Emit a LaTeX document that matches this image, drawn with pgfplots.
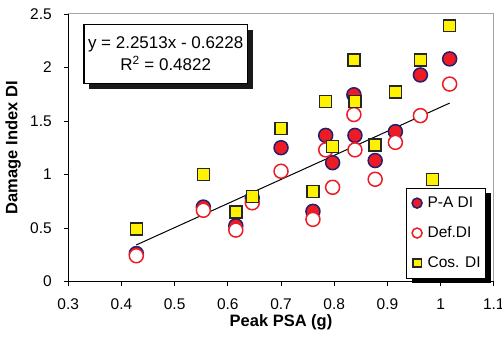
\documentclass[border=0pt]{standalone}
\usepackage{pgfplots}
\pgfplotsset{compat=1.18}
\usepackage{fontspec}
\setmainfont{Liberation Sans}
\usetikzlibrary{shadows}
\definecolor{pared}{RGB}{237,28,36}
\definecolor{panavy}{RGB}{35,31,110}
\definecolor{cosyellow}{RGB}{255,242,0}
\definecolor{boxgray}{RGB}{165,165,165}

\pgfplotstableread{
x      pa     def
0.428  0.26   0.24
0.554  0.695  0.665
0.615  0.52   0.48
0.646  0.78   0.735
0.700  1.25   1.03
0.760  0.655  0.58
0.784  1.365  1.23
0.797  1.11   0.88
0.837  1.745  1.56
0.839  1.365  1.23
0.877  1.13   0.955
0.915  1.40   1.30
0.962  1.93   1.55
1.017  2.08   1.845
}\circdata

\pgfplotstableread{
x      cos
0.428  0.49
0.554  1.00
0.615  0.65
0.646  0.795
0.700  1.43
0.760  0.84
0.784  1.68
0.797  1.26
0.837  2.07
0.839  1.68
0.877  1.275
0.915  1.77
0.962  2.07
0.985  0.955
1.017  2.39
}\cosdata

\begin{document}
\begin{tikzpicture}
\begin{axis}[
  scale only axis, width=426pt, height=267.7pt,
  xmin=0.3, xmax=1.1, ymin=0, ymax=2.5,
  xtick={0.3,0.4,0.5,0.6,0.7,0.8,0.9,1.0,1.1},
  ytick={0,0.5,1,1.5,2,2.5},
  xtick pos=lower, ytick pos=left,
  tick align=outside, major tick length=4.5pt,
  tick style={black, line width=0.8pt},
  axis line style={draw=boxgray, line width=1pt},
  ticklabel style={font=\fontsize{15.5}{18}\selectfont},
  /pgf/number format/assume math mode=true,
  xticklabel style={anchor=base, yshift=-23.5pt},
  yticklabel style={anchor=east, xshift=-8.5pt},
  xlabel={Peak PSA (g)}, ylabel={Damage Index DI},
  label style={font=\bfseries\fontsize{16.5}{19}\selectfont},
  xlabel style={at={(axis description cs:0.5,-0.169)}, anchor=base},
  ylabel style={at={(axis description cs:-0.1197,0.5)}, anchor=base},
  clip=false,
  legend style={at={(rel axis cs:0.982,0.351)}, anchor=north east,
    draw=black, line width=1pt, fill=white,
    drop shadow={shadow xshift=5pt, shadow yshift=-5pt, opacity=1, fill=black},
    font=\fontsize{15.5}{18}\selectfont,
    inner xsep=5pt, inner ysep=9pt, row sep=17.5pt,
    nodes={inner sep=0pt}},
  legend cell align=left,
  legend image code/.code={\path (0pt,0pt) (15pt,0pt);\draw[mark repeat=2,mark phase=2,#1] plot coordinates {(0pt,0pt)(5pt,0pt)(10pt,0pt)};},
]
\addplot[only marks, mark=*, mark size=7pt, mark options={fill=pared, draw=panavy, line width=1.5pt},
  legend image post style={mark size=5pt}]
  table[x=x, y=pa] {\circdata};
\addlegendentry{P-A DI}
\addplot[only marks, mark=*, mark size=7pt, mark options={fill=white, draw=pared, line width=1.5pt},
  legend image post style={mark size=5pt}]
  table[x=x, y=def] {\circdata};
\addlegendentry{Def.DI}
\addplot[black, line width=1pt, forget plot] coordinates {(0.428,0.341) (1.017,1.667)};
\addplot[only marks, mark=square*, mark size=6pt, mark options={fill=cosyellow, draw=black!85, line width=1.5pt},
  legend image post style={mark size=4.2pt}]
  table[x=x, y=cos] {\cosdata};
\addlegendentry{Cos. DI}
\draw[black, line width=1pt] (rel axis cs:0,1) -- (rel axis cs:0,0) -- (rel axis cs:1,0);
\node[draw=black, line width=1.2pt, fill=white,
  drop shadow={shadow xshift=5.5pt, shadow yshift=-5.5pt, opacity=1, fill=black!90},
  minimum width=163.7pt, minimum height=59pt, align=center,
  font=\fontsize{17}{21.7}\selectfont]
  at (rel axis cs:0.229,0.851) {y = 2.2513x - 0.6228\\R\textsuperscript{2} = 0.4822};
\end{axis}
\pgfresetboundingbox
\path[use as bounding box] (-68.3pt,-63.3pt) rectangle (434.2pt,281.7pt);
\end{tikzpicture}
\end{document}
